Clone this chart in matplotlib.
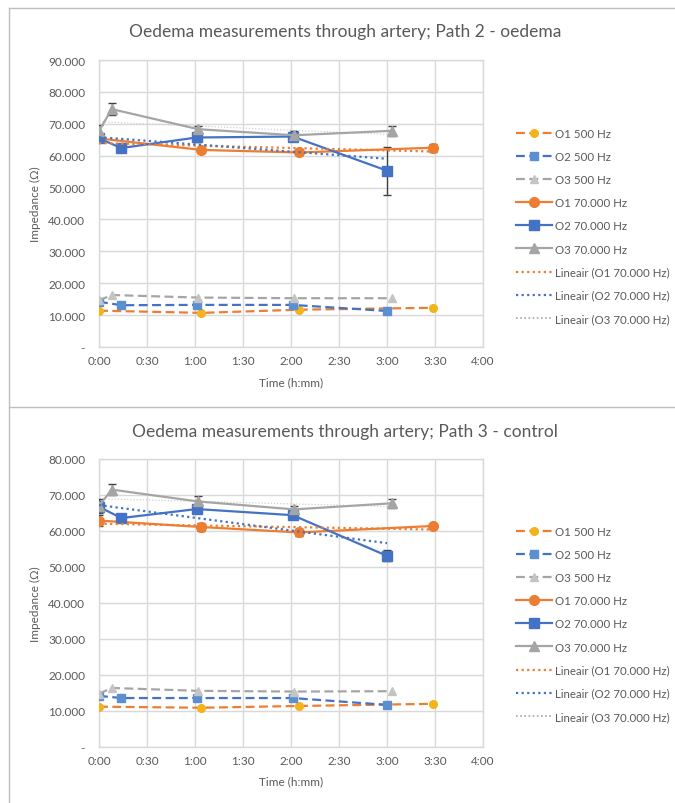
import numpy as np
import matplotlib
matplotlib.use("Agg")
import matplotlib.pyplot as plt
from matplotlib.lines import Line2D
from matplotlib.ticker import FuncFormatter, MultipleLocator

plt.rcParams['font.family'] = ['Lato', 'DejaVu Sans']

# ---------------- data (time in minutes, impedance in ohm) ----------------
t_o1 = [0, 64, 125, 209]
t_o2 = [0, 14, 61, 121, 180]
t_o3 = [0, 8, 62, 122, 183]

# Path 2 - oedema
p2_o1_500 = [11400, 10700, 11700, 12300]
p2_o2_500 = [14200, 13100, 13200, 13200, 11300]
p2_o3_500 = [14600, 16300, 15500, 15300, 15300]
p2_o1_70k = [65400, 61800, 61000, 62500]
p2_o2_70k = [65400, 62400, 65700, 66000, 55300]
p2_o3_70k = [67800, 74600, 68300, 66400, 67800]
p2_o1_err = [600, 1000, 800, 1200]
p2_o2_err = [1200, 1200, 1500, 1200, 7500]
p2_o3_err = [1800, 1900, 1000, 1200, 1500]

# Path 3 - control
p3_o1_500 = [11200, 10900, 11400, 12000]
p3_o2_500 = [14200, 13600, 13600, 13600, 11700]
p3_o3_500 = [14800, 16400, 15600, 15400, 15500]
p3_o1_70k = [62900, 61100, 59600, 61400]
p3_o2_70k = [66700, 63600, 66100, 64400, 53100]
p3_o3_70k = [67000, 71500, 68200, 66000, 67700]
p3_o1_err = [1500, 1200, 900, 600]
p3_o2_err = [1500, 800, 1000, 1200, 1500]
p3_o3_err = [2000, 1600, 1500, 1000, 1300]

titles = ["Oedema measurements through artery; Path 2 - oedema",
          "Oedema measurements through artery; Path 3 - control"]
y_max = [90000, 80000]
x_ticks = [0, 30, 60, 90, 120, 150, 180, 210, 240]
x_tick_labels = ["0:00", "0:30", "1:00", "1:30", "2:00", "2:30", "3:00", "3:30", "4:00"]
legend_labels = ["O1 500 Hz", "O2 500 Hz", "O3 500 Hz",
                 "O1 70.000 Hz", "O2 70.000 Hz", "O3 70.000 Hz",
                 "Lineair (O1 70.000 Hz)", "Lineair (O2 70.000 Hz)", "Lineair (O3 70.000 Hz)"]

# ---------------- style ----------------
ORANGE = "#ED7D31"
BLUE = "#4472C4"
GRAY = "#A5A5A5"
GOLD = "#F2B31B"
LBLUE = "#5B8FD0"
LGRAY = "#C4C4C4"
TRENDGRAY = "#D0D0D0"
ERR = "#404040"
TXT = "#595959"
GRID = "#D9D9D9"
FRAME = "#BFBFBF"

W, H = 675, 804
fig = plt.figure(figsize=(W / 100, H / 100), dpi=100)

def fx(px):
    return px / W

def fy(py):
    return 1 - py / H

def yfmt(v, pos):
    if abs(v) < 1e-9:
        return "-"
    return f"{v:,.0f}".replace(",", ".")

def draw(top_px, bot_px, title, ymax, data, title_y, xlabel_y, leg_y):
    (o1_500, o2_500, o3_500, o1_70, o2_70, o3_70, e1, e2, e3) = data
    ax = fig.add_axes([fx(99), fy(bot_px), fx(483) - fx(99), fy(top_px) - fy(bot_px)])
    ax.set_xlim(0, 240)
    ax.set_ylim(0, ymax)
    ax.set_xticks(x_ticks)
    ax.set_xticklabels(x_tick_labels)
    ax.yaxis.set_major_locator(MultipleLocator(10000))
    ax.yaxis.set_major_formatter(FuncFormatter(yfmt))
    ax.grid(True, color=GRID, linewidth=1.0)
    ax.set_axisbelow(True)
    for s in ax.spines.values():
        s.set_color(GRID)
        s.set_linewidth(1.0)
    ax.tick_params(axis='x', length=0, labelsize=8.5, colors=TXT, pad=6)
    ax.tick_params(axis='y', length=0, labelsize=8.5, colors=TXT, pad=10)

    dash = (0, (4, 2))
    # 500 Hz series
    ax.plot(t_o1, o1_500, linestyle=dash, color=ORANGE, lw=1.6, marker='o', ms=5.5,
            mfc=GOLD, mec=GOLD, zorder=3)
    ax.plot(t_o2, o2_500, linestyle=dash, color=BLUE, lw=1.6, marker='s', ms=5.5,
            mfc=LBLUE, mec=LBLUE, zorder=3)
    ax.plot(t_o3, o3_500, linestyle=dash, color=GRAY, lw=1.6, marker='^', ms=6,
            mfc=LGRAY, mec=LGRAY, zorder=3)

    # 70 kHz series with error bars
    for t, v, e, c, m, ms in [(t_o1, o1_70, e1, ORANGE, 'o', 7),
                              (t_o2, o2_70, e2, BLUE, 's', 6.5),
                              (t_o3, o3_70, e3, GRAY, '^', 7)]:
        ax.errorbar(t, v, yerr=e, fmt='none', ecolor=ERR, elinewidth=1.0,
                    capsize=3, capthick=1.0, zorder=4)
        ax.plot(t, v, '-', color=c, lw=1.6, marker=m, ms=ms, mfc=c, mec=c, zorder=5)

    # linear trend lines
    for t, v, c, lw, z in [(t_o1, o1_70, ORANGE, 1.6, 6), (t_o2, o2_70, BLUE, 1.6, 6),
                           (t_o3, o3_70, TRENDGRAY, 0.9, 2)]:
        k, b = np.polyfit(t, v, 1)
        xs = np.array([min(t), max(t)])
        ax.plot(xs, k * xs + b, linestyle=(0, (1, 1.5)), color=c, lw=lw, zorder=z)

    fig.text(0.5 * (fx(99) + fx(483)) + 0.08, fy(title_y), title, ha='center', va='center',
             fontsize=12.5, color=TXT)
    fig.text(0.5 * (fx(99) + fx(483)), fy(xlabel_y), "Time (h:mm)", ha='center', va='center',
             fontsize=8.5, color=TXT)
    fig.text(fx(35), 0.5 * (fy(top_px) + fy(bot_px)), "Impedance (Ω)", rotation=90,
             ha='center', va='center', fontsize=8.5, color=TXT)

    handles = [
        Line2D([], [], linestyle=dash, color=ORANGE, lw=1.6, marker='o', ms=5.5, mfc=GOLD, mec=GOLD),
        Line2D([], [], linestyle=dash, color=BLUE, lw=1.6, marker='s', ms=5.5, mfc=LBLUE, mec=LBLUE),
        Line2D([], [], linestyle=dash, color=GRAY, lw=1.6, marker='^', ms=6, mfc=LGRAY, mec=LGRAY),
        Line2D([], [], linestyle='-', color=ORANGE, lw=1.6, marker='o', ms=7),
        Line2D([], [], linestyle='-', color=BLUE, lw=1.6, marker='s', ms=6.5),
        Line2D([], [], linestyle='-', color=GRAY, lw=1.6, marker='^', ms=7),
        Line2D([], [], linestyle=(0, (1, 1.5)), color=ORANGE, lw=1.6),
        Line2D([], [], linestyle=(0, (1, 1.5)), color=BLUE, lw=1.6),
        Line2D([], [], linestyle=(0, (1, 1.5)), color=GRAY, lw=1.2),
    ]
    fig.legend(handles, legend_labels, loc='upper left',
               bbox_to_anchor=(fx(516), fy(leg_y)), frameon=False, fontsize=8.3,
               labelcolor=TXT, handlelength=3.1, handletextpad=0.3,
               labelspacing=1.05, borderpad=0, borderaxespad=0)
    return ax

draw(61, 348, titles[0], y_max[0],
     (p2_o1_500, p2_o2_500, p2_o3_500, p2_o1_70k, p2_o2_70k, p2_o3_70k,
      p2_o1_err, p2_o2_err, p2_o3_err), 32, 383, 129)
draw(460, 748, titles[1], y_max[1],
     (p3_o1_500, p3_o2_500, p3_o3_500, p3_o1_70k, p3_o2_70k, p3_o3_70k,
      p3_o1_err, p3_o2_err, p3_o3_err), 432, 782, 527)

# chart frames
fig.add_artist(Line2D([fx(9), 1], [fy(9), fy(9)], color=FRAME, lw=1.0))
fig.add_artist(Line2D([fx(9), fx(9)], [fy(9), 0], color=FRAME, lw=1.0))
fig.add_artist(Line2D([fx(9), 1], [fy(408), fy(408)], color=FRAME, lw=1.0))

fig.savefig("out.png", dpi=100)
